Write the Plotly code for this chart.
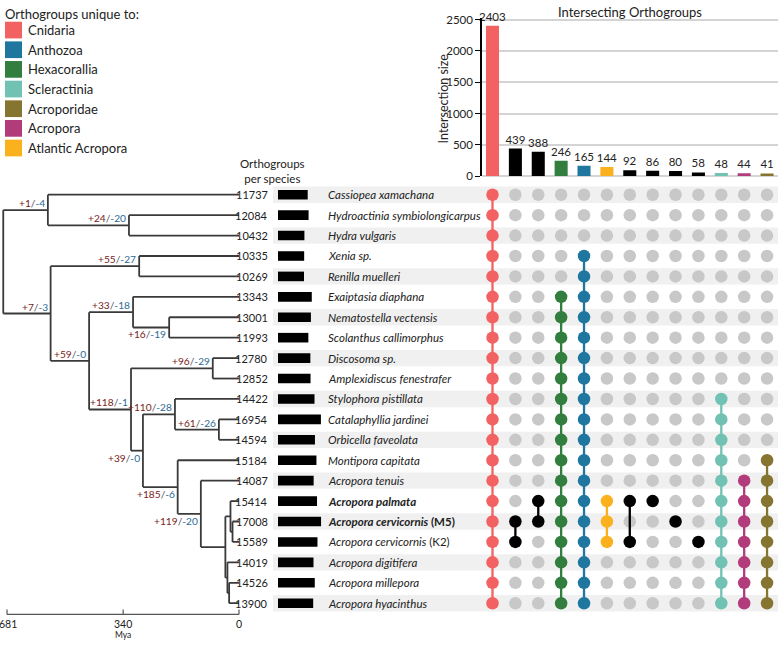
import plotly.graph_objects as go

W, H = 778, 645
FONT = "Lato, 'Open Sans', sans-serif"
TXT = "#222222"

# ---------------- data ----------------
group_names = ["Cnidaria", "Anthozoa", "Hexacorallia", "Scleractinia",
               "Acroporidae", "Acropora", "Atlantic Acropora"]
group_colors = ["#F26262", "#1F77A0", "#327E3E", "#72C2B4",
                "#857530", "#B13B7B", "#FBB11E"]

species = ["Cassiopea xamachana", "Hydroactinia symbiolongicarpus", "Hydra vulgaris",
           "Xenia sp.", "Renilla muelleri", "Exaiptasia diaphana",
           "Nematostella vectensis", "Scolanthus callimorphus", "Discosoma sp.",
           "Amplexidiscus fenestrafer", "Stylophora pistillata", "Catalaphyllia jardinei",
           "Orbicella faveolata", "Montipora capitata", "Acropora tenuis",
           "Acropora palmata", "Acropora cervicornis (M5)", "Acropora cervicornis (K2)",
           "Acropora digitifera", "Acropora millepora", "Acropora hyacinthus"]
species_labels = ["<i>%s</i>" % s for s in species]
species_labels[15] = "<b><i>Acropora palmata</i></b>"
species_labels[16] = "<b><i>Acropora cervicornis</i> (M5)</b>"
species_labels[17] = "<i>Acropora cervicornis</i> (K2)"

orthogroups_per_species = [11737, 12084, 10432, 10335, 10269, 13343, 13001, 11993,
                           12780, 12852, 14422, 16954, 14594, 15184, 14087, 15414,
                           17008, 15589, 14019, 14526, 13900]

intersection_sizes = [2403, 439, 388, 246, 165, 144, 92, 86, 80, 58, 48, 44, 41]
intersection_colors = ["#F26262", "#000000", "#000000", "#327E3E", "#1F77A0", "#FBB11E",
                       "#000000", "#000000", "#000000", "#000000", "#72C2B4", "#B13B7B",
                       "#857530"]
# member species (row indices) of each intersection
intersection_members = [
    list(range(0, 21)),
    [16, 17],
    [15, 16],
    list(range(5, 21)),
    list(range(3, 21)),
    [15, 16, 17],
    [15, 17],
    [15],
    [16],
    [17],
    list(range(10, 21)),
    list(range(14, 21)),
    list(range(13, 21)),
]

# time tree (ages in Mya)
node_ages = {"Root": 692, "Medusozoa": 561, "Hydrozoa": 323, "Anthozoa": 553,
             "Octocorallia": 293, "Hexacorallia": 440, "Actiniaria": 311,
             "Edwardsiidae": 205, "ScleractiniaCorallimorpharia": 317,
             "Corallimorpharia": 77, "Scleractinia": 282, "CladeA": 188,
             "CladeB": 59, "Acroporidae": 180, "Acropora": 112, "AcroporaCrown": 40,
             "Atlantic": 25, "Cervicornis": 19, "Pacific": 34, "MilleporaHyacinthus": 29}
node_children = {
    "Root": ["Medusozoa", "Anthozoa"],
    "Medusozoa": ["Cassiopea xamachana", "Hydrozoa"],
    "Hydrozoa": ["Hydroactinia symbiolongicarpus", "Hydra vulgaris"],
    "Anthozoa": ["Octocorallia", "Hexacorallia"],
    "Octocorallia": ["Xenia sp.", "Renilla muelleri"],
    "Hexacorallia": ["Actiniaria", "ScleractiniaCorallimorpharia"],
    "Actiniaria": ["Exaiptasia diaphana", "Edwardsiidae"],
    "Edwardsiidae": ["Nematostella vectensis", "Scolanthus callimorphus"],
    "ScleractiniaCorallimorpharia": ["Corallimorpharia", "Scleractinia"],
    "Corallimorpharia": ["Discosoma sp.", "Amplexidiscus fenestrafer"],
    "Scleractinia": ["CladeA", "Acroporidae"],
    "CladeA": ["Stylophora pistillata", "CladeB"],
    "CladeB": ["Catalaphyllia jardinei", "Orbicella faveolata"],
    "Acroporidae": ["Montipora capitata", "Acropora"],
    "Acropora": ["Acropora tenuis", "AcroporaCrown"],
    "AcroporaCrown": ["Atlantic", "Pacific"],
    "Atlantic": ["Acropora palmata", "Cervicornis"],
    "Cervicornis": ["Acropora cervicornis (M5)", "Acropora cervicornis (K2)"],
    "Pacific": ["Acropora digitifera", "MilleporaHyacinthus"],
    "MilleporaHyacinthus": ["Acropora millepora", "Acropora hyacinthus"],
}
node_gains = {"Medusozoa": 1, "Hydrozoa": 24, "Octocorallia": 55, "Anthozoa": 7,
              "Actiniaria": 33, "Edwardsiidae": 16, "Hexacorallia": 59,
              "Corallimorpharia": 96, "ScleractiniaCorallimorpharia": 118,
              "CladeA": 110, "CladeB": 61, "Scleractinia": 39, "Acroporidae": 185,
              "Acropora": 119}
node_losses = {"Medusozoa": 4, "Hydrozoa": 20, "Octocorallia": 27, "Anthozoa": 3,
               "Actiniaria": 18, "Edwardsiidae": 19, "Hexacorallia": 0,
               "Corallimorpharia": 29, "ScleractiniaCorallimorpharia": 1,
               "CladeA": 28, "CladeB": 26, "Scleractinia": 0, "Acroporidae": 6,
               "Acropora": 20}
mya_ticks = [681, 340, 0]

# ---------------- styling / layout helpers ----------------
label_below = {"Edwardsiidae", "Scleractinia", "Acroporidae", "Acropora"}
GAIN_C, LOSS_C, SLASH_C = "#7A1C1C", "#2D6A95", "#555555"
DOT_GRAY = "#C8C8C8"
STRIPE = "#F0F0F0"

ROW0, ROWSTEP = 193.0, 20.78


def py(px):
    return 1 - px / H


def px2row(px):
    return (px - ROW0) / ROWSTEP


PXMYA = 232 / 681.0  # pixels per Mya

fig = go.Figure()

# ---------------- tree ----------------
leaf_age = 0
row_of = {s: i for i, s in enumerate(species)}


def node_y(n):
    if n in row_of:
        return float(row_of[n])
    ys = [node_y(c) for c in node_children[n]]
    return (ys[0] + ys[-1]) / 2


def node_age(n):
    return node_ages.get(n, leaf_age)


tx, ty = [], []
for n, ch in node_children.items():
    a = node_age(n)
    ys = [node_y(c) for c in ch]
    tx += [a, a, None]
    ty += [ys[0], ys[-1], None]
    for c, yc in zip(ch, ys):
        tx += [a, node_age(c), None]
        ty += [yc, yc, None]
fig.add_trace(go.Scatter(x=tx, y=ty, mode="lines", xaxis="x", yaxis="y",
                         line=dict(color="#3A3A3A", width=1.8), hoverinfo="skip"))

# Mya axis
axis_row = px2row(620)
tick_up = 5 / ROWSTEP
mx = [mya_ticks[0], mya_ticks[-1], None]
my = [axis_row, axis_row, None]
for t in mya_ticks:
    mx += [t, t, None]
    my += [axis_row, axis_row - tick_up, None]
fig.add_trace(go.Scatter(x=mx, y=my, mode="lines", xaxis="x", yaxis="y",
                         line=dict(color="#555555", width=1.2), hoverinfo="skip"))

annotations = []


def ann(**kw):
    kw.setdefault("showarrow", False)
    kw.setdefault("xanchor", "center")
    kw.setdefault("yanchor", "middle")
    annotations.append(kw)


for t in mya_ticks:
    if t == mya_ticks[0]:
        ann(x=0, y=py(630), xref="paper", yref="paper", text=str(t), xanchor="left",
            xshift=-3, font=dict(size=10.5, color=TXT, family=FONT))
    else:
        ann(x=t, y=py(630), xref="x", yref="paper", text=str(t),
            font=dict(size=10.5, color=TXT, family=FONT))
ann(x=340, y=py(641), xref="x", yref="paper", text="Mya",
    font=dict(size=8.5, color=TXT, family=FONT))

for n in node_gains:
    lab = ('<span style="color:%s">+%d</span><span style="color:%s">/</span>'
           '<span style="color:%s">-%d</span>' % (GAIN_C, node_gains[n], SLASH_C,
                                                   LOSS_C, node_losses[n]))
    below = n in label_below
    ann(x=node_age(n), y=node_y(n), xref="x", yref="y", text=lab,
        xanchor="right", yanchor="top" if below else "bottom",
        xshift=-1, yshift=1 if below else -1,
        font=dict(size=10.2, family=FONT))

# ---------------- row stripes ----------------
shapes = []
for i in range(0, len(species), 2):
    shapes.append(dict(type="rect", xref="paper", yref="y", x0=273 / W, x1=1,
                       y0=i - 0.4, y1=i + 0.4, fillcolor=STRIPE, line_width=0,
                       layer="below"))

# ---------------- orthogroups per species ----------------
fig.add_trace(go.Bar(x=orthogroups_per_species, y=list(range(len(species))),
                     orientation="h", xaxis="x2", yaxis="y", width=0.47,
                     marker=dict(color="#000000", line_width=0), hoverinfo="skip"))
for i, (v, lab) in enumerate(zip(orthogroups_per_species, species_labels)):
    ann(x=270 / W, y=i, xref="paper", yref="y", text=str(v), xanchor="right",
        font=dict(size=11, color=TXT, family=FONT))
    ann(x=326 / W, y=i, xref="paper", yref="y", text=lab, xanchor="left",
        font=dict(size=11.5, color=TXT, family=FONT))
ann(x=272 / W, y=py(169), xref="paper", yref="paper",
    text="Orthogroups<br>per species", font=dict(size=11.5, color=TXT, family=FONT))

# ---------------- matrix ----------------
gx, gy = [], []
for j, mem in enumerate(intersection_members):
    for i in range(len(species)):
        if i not in mem:
            gx.append(j)
            gy.append(i)
fig.add_trace(go.Scatter(x=gx, y=gy, mode="markers", xaxis="x3", yaxis="y",
                         marker=dict(size=12.5, color=DOT_GRAY), hoverinfo="skip"))
for j, (mem, col) in enumerate(zip(intersection_members, intersection_colors)):
    if len(mem) > 1:
        fig.add_trace(go.Scatter(x=[j, j], y=[min(mem), max(mem)], mode="lines",
                                 xaxis="x3", yaxis="y",
                                 line=dict(color=col, width=2.3), hoverinfo="skip"))
    fig.add_trace(go.Scatter(x=[j] * len(mem), y=mem, mode="markers", xaxis="x3",
                             yaxis="y", marker=dict(size=12.5, color=col),
                             hoverinfo="skip"))

# ---------------- intersection bars ----------------
cols = list(range(len(intersection_sizes)))
fig.add_trace(go.Bar(x=cols, y=intersection_sizes, xaxis="x4", yaxis="y2", width=0.57,
                     marker=dict(color=intersection_colors, line_width=0),
                     texttemplate="%{y}", textposition="outside", cliponaxis=False,
                     constraintext="none",
                     textfont=dict(size=11.5, color=TXT, family=FONT),
                     hoverinfo="skip"))
ann(x=630 / W, y=py(7), xref="paper", yref="paper",
    text="Intersecting Orthogroups", font=dict(size=13, color=TXT, family=FONT))
ann(x=443 / W, y=py(95), xref="paper", yref="paper",
    text="Intersection size", textangle=-90,
    font=dict(size=12.5, color=TXT, family=FONT))

# ---------------- legend ----------------
ann(x=3 / W, y=py(9), xref="paper", yref="paper", xanchor="left",
    text="Orthogroups unique to:", font=dict(size=13, color=TXT, family=FONT))
for k, (nm, col) in enumerate(zip(group_names, group_colors)):
    top = 17 + 20 * k
    shapes.append(dict(type="rect", xref="paper", yref="paper", x0=5 / W, x1=22 / W,
                       y0=py(top + 17), y1=py(top), fillcolor=col, line_width=0))
    ann(x=26 / W, y=py(top + 8.5), xref="paper", yref="paper", xanchor="left",
        text=nm, font=dict(size=13, color=TXT, family=FONT))

# ---------------- axes ----------------
row_range = [px2row(625), px2row(182)]
row_domain = [py(625), py(182)]
fig.update_layout(
    width=W, height=H, margin=dict(l=0, r=0, t=0, b=0),
    paper_bgcolor="white", plot_bgcolor="rgba(0,0,0,0)", showlegend=False,
    font=dict(family=FONT, color=TXT),
    xaxis=dict(domain=[0, 245 / W], range=[681 + 7 / PXMYA, -6 / PXMYA],
               visible=False, anchor="y"),
    yaxis=dict(domain=row_domain, range=row_range, visible=False, anchor="x"),
    xaxis2=dict(domain=[278 / W, 340 / W], range=[0, 62 * 395], visible=False,
                anchor="y"),
    xaxis3=dict(domain=[482 / W, 1], range=[-0.459, 12.478], visible=False,
                anchor="y"),
    xaxis4=dict(domain=[482 / W, 1], range=[-0.459, 12.478], visible=False,
                anchor="y2"),
    yaxis2=dict(domain=[py(174), py(13)], range=[0, 2500 * 161 / 159], anchor="x4",
                showline=True, linecolor="#000000", linewidth=1.5,
                ticks="outside", ticklen=5, tickwidth=1.2, tickcolor="#000000",
                tickvals=[0, 500, 1000, 1500, 2000, 2500],
                tickfont=dict(size=11.5, color=TXT, family=FONT),
                showgrid=True, gridcolor="#D4D4D4", gridwidth=1.5,
                zeroline=True, zerolinecolor="#D4D4D4", zerolinewidth=1.5),
    shapes=shapes, annotations=annotations,
)

fig.write_html("out.html", config={"displayModeBar": False},
               post_script="document.body.style.margin='0px';")
